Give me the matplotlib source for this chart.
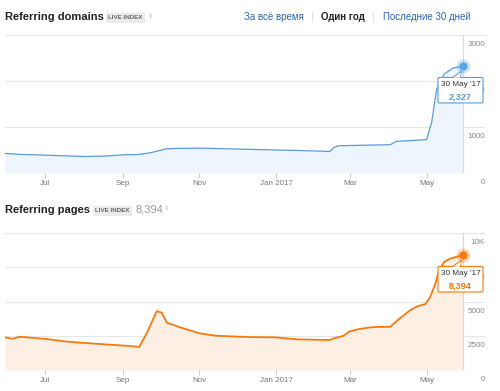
import numpy as np
import matplotlib
matplotlib.use('Agg')
import matplotlib.pyplot as plt
import matplotlib.dates as mdates
from matplotlib.patches import FancyBboxPatch, Polygon
from matplotlib.transforms import ScaledTranslation

plt.rcParams['font.family'] = ['Liberation Sans', 'DejaVu Sans']

# --- data ---
dom_dates = ['2016-05-30', '2016-06-11', '2016-07-02', '2016-08-02', '2016-08-18',
             '2016-09-02', '2016-09-13', '2016-09-23', '2016-10-06', '2016-10-15',
             '2016-11-01', '2016-12-10', '2017-01-18', '2017-02-13', '2017-02-16',
             '2017-02-20', '2017-04-02', '2017-04-07', '2017-05-01', '2017-05-05',
             '2017-05-09', '2017-05-15', '2017-05-22', '2017-05-30']
dom_vals = [425, 405, 387, 358, 368, 395, 402, 440, 527, 535, 540, 515, 490, 468,
            556, 593, 615, 688, 725, 1100, 1820, 2150, 2280, 2327]

pag_dates = ['2016-05-30', '2016-06-05', '2016-06-11', '2016-07-02', '2016-07-19',
             '2016-08-14', '2016-09-02', '2016-09-09', '2016-09-14', '2016-09-20',
             '2016-09-28', '2016-10-02', '2016-10-06', '2016-10-19', '2016-11-01',
             '2016-11-14', '2016-12-10', '2016-12-31', '2017-01-18', '2017-02-13',
             '2017-02-16', '2017-02-24', '2017-02-28', '2017-03-07', '2017-03-15',
             '2017-03-20', '2017-04-02', '2017-04-08', '2017-04-13', '2017-04-18',
             '2017-04-24', '2017-04-30', '2017-05-04', '2017-05-08', '2017-05-11',
             '2017-05-15', '2017-05-20', '2017-05-30']
pag_vals = [2384, 2283, 2428, 2260, 2063, 1895, 1780, 1727, 1680, 2697, 4300, 4180,
            3450, 3040, 2675, 2500, 2406, 2384, 2238, 2187, 2310, 2500, 2792, 2967,
            3085, 3135, 3157, 3645, 4010, 4374, 4666, 4811, 5345, 6318, 7290, 7895,
            8140, 8394]

month_ticks = ['2016-07-01', '2016-09-01', '2016-11-01', '2017-01-01', '2017-03-01', '2017-05-01']
month_labels = ['Jul', 'Sep', 'Nov', 'Jan 2017', 'Mar', 'May']

dom_yticks = [0, 1000, 2000, 3000]
dom_ylabels = ['0', '1000', '2000', '3000']
pag_yticks = [0, 2500, 5000, 7500, 10000]
pag_ylabels = ['0', '2500', '5000', '7500', '10K']

W, H = 500, 391
fig = plt.figure(figsize=(W / 100, H / 100), dpi=100)
fig.patch.set_facecolor('white')


def px(x, y):
    return x / W, 1 - y / H


def draw_panel(rect, dates, vals, yticks, ylabels, line_c, fill_c, dot_c, lw,
               tip_date, tip_value):
    ax = fig.add_axes(rect)
    d = np.array(dates, dtype='datetime64[D]')
    x = mdates.date2num(d)
    x0, x1 = x[0], x[-1]
    # plot area ends at the crosshair, labels column continues to the right
    ax.set_xlim(x0, x1 + (485 - 463) / (463 - 5) * (x1 - x0))
    ax.set_ylim(0, yticks[-1])
    for s in ax.spines.values():
        s.set_visible(False)
    ax.set_yticks([])
    for v in yticks:
        ax.axhline(v, color='#e6e6e6', lw=0.8, zorder=0)
    ax.fill_between(x, vals, color=fill_c, lw=0, zorder=1)
    ax.plot(x, vals, color=line_c, lw=lw, zorder=3, solid_capstyle='round')
    ax.axvline(x1, color='#d9d9d9', lw=0.8, zorder=2)

    mt = mdates.date2num(np.array(month_ticks, dtype='datetime64[D]'))
    ax.set_xticks(mt)
    ax.set_xticklabels(month_labels)
    ax.tick_params(axis='x', length=3.5, width=0.7, color='#cccccc', pad=1.2,
                   labelsize=5.8, labelcolor='#777777')

    for v, lab in zip(yticks, ylabels):
        ax.annotate(lab, xy=(1, v), xycoords=('axes fraction', 'data'),
                    xytext=(0, -4.6), textcoords='offset points', ha='right',
                    va='top', fontsize=5.8, color='#888888', annotation_clip=False)

    # hover dot
    ax.plot(x1, vals[-1], 'o', ms=10, color=dot_c, alpha=0.3, mec='none', zorder=5,
            clip_on=False)
    ax.plot(x1, vals[-1], 'o', ms=6, color=dot_c, mec='none', zorder=6,
            clip_on=False)

    # tooltip box, placed in inches relative to the hovered point
    tr = fig.dpi_scale_trans + ScaledTranslation(x1, vals[-1], ax.transData)
    tail = Polygon([(-0.10, -0.115), (-0.03, -0.115), (-0.015, -0.05)],
                   closed=True, fc='white', ec=line_c, lw=0.8, transform=tr,
                   zorder=7, clip_on=False)
    ax.add_patch(tail)
    box = FancyBboxPatch((-0.25, -0.37), 0.45, 0.255,
                         boxstyle='round,pad=0,rounding_size=0.015',
                         fc='white', ec=line_c, lw=0.8, transform=tr, zorder=8,
                         clip_on=False)
    ax.add_patch(box)
    ax.add_patch(Polygon([(-0.097, -0.118), (-0.033, -0.118), (-0.02, -0.07)],
                         closed=True, fc='white', ec='none', transform=tr,
                         zorder=9, clip_on=False))
    ax.annotate(tip_date, xy=(x1, vals[-1]), xytext=(-1.8, -13.6),
                textcoords='offset points', ha='center', va='center',
                fontsize=5.9, color='#333333', zorder=10, annotation_clip=False)
    ax.annotate(tip_value, xy=(x1, vals[-1]), xytext=(-1.8, -22.4),
                textcoords='offset points', ha='center', va='center',
                fontsize=6.6, color=line_c, fontweight='bold', zorder=10,
                annotation_clip=False)
    return ax


l, _ = px(5, 0)
r, _ = px(485, 0)
_, b1 = px(0, 173)
_, t1 = px(0, 35)
_, b2 = px(0, 370)
_, t2 = px(0, 233)

draw_panel([l, b1, r - l, t1 - b1], dom_dates, dom_vals, dom_yticks, dom_ylabels,
           '#5b9bd9', '#eef5fc', '#5fa3e3', 0.9, "30 May '17", '2,327')
draw_panel([l, b2, r - l, t2 - b2], pag_dates, pag_vals, pag_yticks, pag_ylabels,
           '#f57a10', '#fdefe4', '#f57a10', 1.3, "30 May '17", '8,394')


def badge(x, y):
    fig.text(*px(x, y), 'LIVE INDEX', fontsize=4.5, color='#666666', ha='left',
             va='center', fontweight='bold',
             bbox=dict(boxstyle='square,pad=0.4', fc='#ebebeb', ec='none'))


# headers
fig.text(*px(5, 17), 'Referring domains', fontsize=8, fontweight='bold',
         color='#222222', va='center')
badge(108, 17.5)
fig.text(*px(149, 16), 'i', fontsize=5, color='#999999', va='center')

fig.text(*px(244, 17), 'За всё время', fontsize=7.0, color='#2a66b3', va='center')
fig.text(*px(311, 17), '|', fontsize=8, color='#dddddd', va='center')
fig.text(*px(321, 17), 'Один год', fontsize=7.0, color='#222222', va='center',
         fontweight='bold')
fig.text(*px(372, 17), '|', fontsize=8, color='#dddddd', va='center')
fig.text(*px(383, 17), 'Последние 30 дней', fontsize=7.0, color='#2a66b3',
         va='center')

fig.text(*px(5, 210), 'Referring pages', fontsize=8, fontweight='bold',
         color='#222222', va='center')
badge(95, 210.5)
fig.text(*px(135, 210), '8,394', fontsize=8, color='#999999', va='center')
fig.text(*px(165, 209), 'i', fontsize=5, color='#999999', va='center')

fig.savefig('out.png', dpi=100, facecolor='white')
